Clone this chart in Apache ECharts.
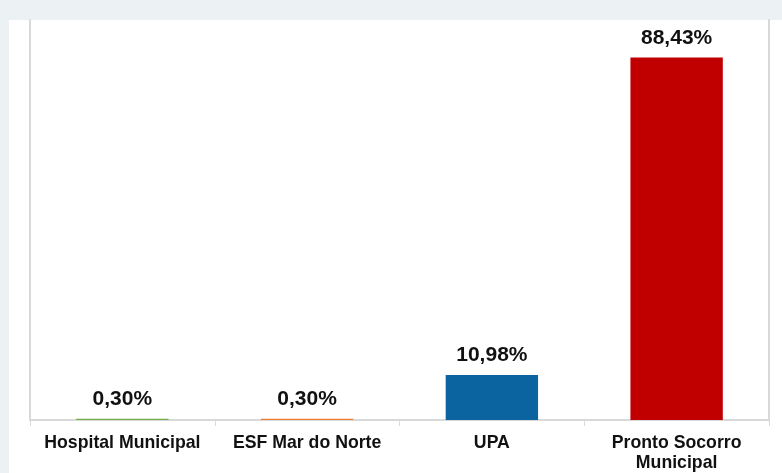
<!DOCTYPE html>
<html><head><meta charset="utf-8">
<script src="https://cdn.jsdelivr.net/npm/echarts@6/dist/echarts.min.js"></script>
<style>html,body{margin:0;padding:0;background:#ecf1f4}#c{width:782px;height:473px}</style>
</head><body><div id="c"></div>
<script>
const categories = ['Hospital Municipal', 'ESF Mar do Norte', 'UPA', 'Pronto Socorro\nMunicipal'];
const values = [0.30, 0.30, 10.98, 88.43];
const labels = ['0,30%', '0,30%', '10,98%', '88,43%'];
const colors = ['#70ad47', '#ed7d31', '#0b64a0', '#c00000'];

const chart = echarts.init(document.getElementById('c'));
chart.setOption({
  backgroundColor: '#ecf1f4',
  animation: false,
  graphic: [{type: 'rect', z: -10, shape: {x: 9, y: 20, width: 773, height: 453}, style: {fill: '#ffffff'}}],
  grid: {left: 30, right: 13, top: 20, bottom: 52},
  xAxis: {
    type: 'category', data: categories,
    axisLine: {lineStyle: {color: '#d9d9d9', width: 2}},
    axisTick: {show: true, interval: 0, length: 6, lineStyle: {color: '#d9d9d9', width: 1}},
    axisLabel: {interval: 0, hideOverlap: false, color: '#111', fontFamily: 'Liberation Sans, Arial, sans-serif', fontWeight: 'bold', fontSize: 17.7, margin: 13, lineHeight: 20}
  },
  yAxis: [
    {type: 'value', min: 0, max: 97.6, show: true, splitLine: {show: false}, axisLabel: {show: false}, axisTick: {show: false}, axisLine: {show: true, lineStyle: {color: '#d9d9d9', width: 2}}},
    {type: 'value', min: 0, max: 97.6, position: 'right', splitLine: {show: false}, axisLabel: {show: false}, axisTick: {show: false}, axisLine: {show: true, lineStyle: {color: '#d9d9d9', width: 2}}}
  ],
  series: [{
    type: 'bar', barWidth: '50%',
    data: values.map((v, i) => ({value: v, itemStyle: {color: colors[i]}})),
    label: {
      show: true, position: 'top', distance: 9,
      formatter: p => labels[p.dataIndex],
      color: '#111', fontFamily: 'Liberation Sans, Arial, sans-serif', fontWeight: 'bold', fontSize: 21
    }
  }]
});
</script></body></html>
